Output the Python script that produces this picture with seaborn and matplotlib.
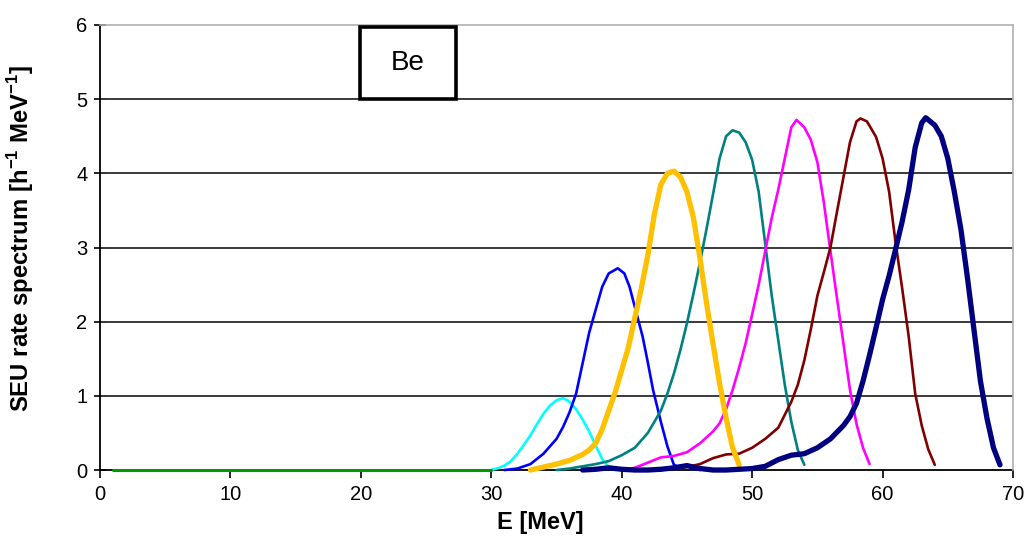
import matplotlib
matplotlib.use("Agg")
import matplotlib.pyplot as plt
from matplotlib.patches import Rectangle
import seaborn as sns
import pandas as pd

# SEU rate spectra for Be, one curve per beam setting
E_green = [1, 5, 10, 15, 20, 25, 30]
v_green = [0, 0, 0, 0, 0, 0, 0]

E_cyan = [30, 30.6, 31, 31.5, 32, 32.5, 33, 33.5, 34, 34.5, 35, 35.5, 36, 36.5, 37, 37.5, 38, 38.5, 39, 39.5]
v_cyan = [0, 0.03, 0.06, 0.12, 0.22, 0.34, 0.47, 0.62, 0.76, 0.87, 0.94, 0.97, 0.92, 0.82, 0.68, 0.52, 0.33, 0.15, 0.04, 0.0]

E_blue = [31, 32, 33, 34, 35, 35.5, 36, 36.5, 37, 37.5, 38, 38.5, 39, 39.7, 40.2, 40.6, 41, 41.6, 42, 42.4,
          43, 43.5, 44, 44.5, 45, 45.5, 46]
v_blue = [0.0, 0.02, 0.08, 0.22, 0.42, 0.58, 0.78, 1.03, 1.44, 1.85, 2.16, 2.47, 2.65, 2.72, 2.65, 2.47, 2.2, 1.8,
          1.45, 1.08, 0.65, 0.32, 0.07, 0.03, 0.05, 0.02, 0.0]

E_orange = [33, 34, 35, 36, 37, 37.5, 38, 38.5, 39, 39.5, 40, 40.5, 41, 41.5, 42, 42.5, 43, 43.5, 44, 44.5,
            45, 45.5, 46, 46.5, 47, 47.5, 48, 48.5, 49]
v_orange = [0.0, 0.04, 0.08, 0.13, 0.21, 0.27, 0.36, 0.55, 0.8, 1.05, 1.35, 1.65, 2.05, 2.45, 2.9, 3.45, 3.85,
            4.0, 4.03, 3.95, 3.75, 3.4, 2.85, 2.25, 1.7, 1.17, 0.7, 0.3, 0.07]

E_teal = [35, 36, 37, 38, 39, 40, 41, 42, 42.5, 43, 43.5, 44, 44.5, 45, 45.5, 46, 46.5, 47, 47.5, 48, 48.5,
          49, 49.5, 50, 50.5, 51, 51.5, 52, 52.5, 53, 53.5, 54]
v_teal = [0.0, 0.02, 0.05, 0.08, 0.12, 0.2, 0.3, 0.5, 0.65, 0.8, 1.03, 1.3, 1.62, 1.98, 2.38, 2.8, 3.25, 3.72,
          4.2, 4.5, 4.58, 4.55, 4.42, 4.18, 3.75, 3.05, 2.35, 1.75, 1.15, 0.65, 0.27, 0.07]

E_magenta = [40, 41, 42, 43, 44, 45, 46, 47, 47.5, 48, 48.5, 49, 49.5, 50, 50.5, 51, 51.5, 52, 52.5, 53, 53.4,
             54, 54.5, 55, 55.5, 56, 56.5, 57, 57.5, 58, 58.5, 59]
v_magenta = [0.0, 0.03, 0.1, 0.17, 0.19, 0.24, 0.36, 0.52, 0.63, 0.82, 1.08, 1.38, 1.71, 2.1, 2.5, 2.95, 3.4,
             3.78, 4.2, 4.62, 4.72, 4.62, 4.45, 4.15, 3.6, 2.95, 2.32, 1.7, 1.08, 0.62, 0.3, 0.08]

E_maroon = [43, 44, 45, 46, 47, 48, 49, 50, 51, 52, 53, 53.5, 54, 54.5, 55, 55.5, 56, 56.5, 57, 57.5, 58, 58.3,
            58.8, 59.5, 60, 60.5, 61, 61.5, 62, 62.5, 63, 63.5, 64]
v_maroon = [0.0, 0.02, 0.04, 0.08, 0.16, 0.21, 0.22, 0.3, 0.42, 0.57, 0.92, 1.15, 1.48, 1.9, 2.35, 2.67, 3.0,
            3.48, 3.95, 4.42, 4.7, 4.74, 4.7, 4.49, 4.2, 3.75, 3.06, 2.45, 1.8, 1.03, 0.6, 0.28, 0.07]

E_navy = [37, 38, 39, 40, 41, 42, 43, 44, 45, 46, 47, 48, 49, 50, 51, 52, 53, 54, 55, 56, 57, 57.5, 58, 58.5,
          59, 59.5, 60, 60.5, 61, 61.5, 62, 62.5, 63, 63.3, 64, 64.5, 65, 65.5, 66, 66.5, 67, 67.5, 68, 68.5, 69]
v_navy = [0.0, 0.01, 0.03, 0.01, 0.0, 0.0, 0.01, 0.03, 0.06, 0.02, 0.0, 0.0, 0.01, 0.02, 0.05, 0.14, 0.2, 0.22,
          0.3, 0.42, 0.6, 0.72, 0.9, 1.2, 1.55, 1.92, 2.3, 2.62, 2.98, 3.35, 3.78, 4.35, 4.68, 4.75, 4.65, 4.5,
          4.2, 3.75, 3.25, 2.6, 1.9, 1.2, 0.7, 0.3, 0.07]

series = [
    (E_cyan, v_cyan, "#00FFFF", 1.9),
    (E_blue, v_blue, "#0000FF", 1.9),
    (E_teal, v_teal, "#008080", 1.9),
    (E_magenta, v_magenta, "#FF00FF", 1.9),
    (E_maroon, v_maroon, "#800000", 1.9),
    (E_orange, v_orange, "#FFC000", 3.8),
    (E_navy, v_navy, "#000080", 3.8),
    (E_green, v_green, "#009900", 2.2),
]

sns.set_style("white")
plt.rcParams["font.family"] = ["Liberation Sans", "DejaVu Sans"]
plt.rcParams["mathtext.fontset"] = "custom"
plt.rcParams["mathtext.rm"] = "Liberation Sans"
plt.rcParams["mathtext.bf"] = "Liberation Sans:bold"
plt.rcParams["text.color"] = "black"
plt.rcParams["axes.labelcolor"] = "black"

fig = plt.figure(figsize=(10.27, 5.42), dpi=100)
ax = fig.add_axes([0.0974, 0.1328, 0.8890, 0.8211])

for E, v, col, lw in series:
    df = pd.DataFrame({"E": E, "v": v})
    sns.lineplot(data=df, x="E", y="v", color=col, linewidth=lw, ax=ax, sort=True, estimator=None,
                 solid_joinstyle="round", solid_capstyle="round", zorder=3, clip_on=False)

ax.set_xlim(0, 70)
ax.set_ylim(0, 6)
ax.set_xticks(range(0, 71, 10))
ax.set_yticks(range(0, 7))

for yv in range(1, 6):
    ax.axhline(yv, color="#3a3a3a", linewidth=1.4, zorder=1)

for side in ("top", "right"):
    ax.spines[side].set_color("#b0b0b0")
    ax.spines[side].set_linewidth(1.2)
for side in ("left", "bottom"):
    ax.spines[side].set_color("black")
    ax.spines[side].set_linewidth(1.3)
    ax.spines[side].set_zorder(2)

ax.tick_params(axis="x", direction="out", length=6, width=1.2, colors="black", labelsize=14.5, pad=5)
ax.tick_params(axis="y", direction="inout", length=8, width=1.2, colors="black", labelsize=14.5, pad=5)
ax.xaxis.set_ticks_position("bottom")
ax.yaxis.set_ticks_position("left")

ax.set_xlabel("E [MeV]", fontsize=17, fontweight="bold", color="black")
ax.set_ylabel(r"SEU rate spectrum [h$^{\mathbf{-1}}$ MeV$^{\mathbf{-1}}$]", fontsize=17.2,
              fontweight="bold", color="black")
ax.xaxis.set_label_coords(0.482, -0.092)
ax.yaxis.set_label_coords(-0.070, 0.521)

# Material label box
ax.add_patch(Rectangle((19.9, 5.0), 7.4, 0.97, facecolor="white", edgecolor="black",
                       linewidth=2.6, zorder=4))
ax.text(23.6, 5.49, "Be", ha="center", va="center", fontsize=20, color="black", zorder=5)

fig.savefig("out.png", dpi=100)
